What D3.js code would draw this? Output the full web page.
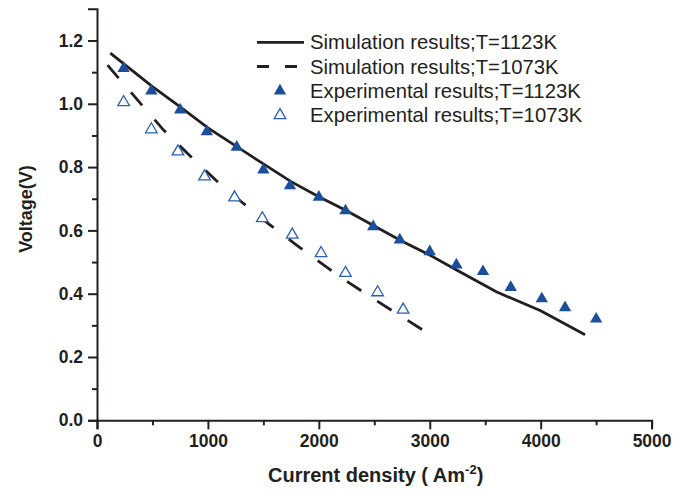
<!DOCTYPE html>
<html>
<head>
<meta charset="utf-8">
<script src="https://cdn.jsdelivr.net/npm/d3@7"></script>
<style>
  html, body { margin: 0; padding: 0; background: #fff; }
  svg { display: block; font-family: Arial, "Liberation Sans", sans-serif; }
</style>
</head>
<body>
<svg id="chart" width="690" height="489"></svg>
<script>
// ---- data ----
const simCurrent1123 = [120, 500, 750, 1000, 1250, 1500, 1750, 2000, 2250, 2500, 2750, 3000, 3250, 3600, 4000, 4400];
const simVoltage1123 = [1.160, 1.054, 0.990, 0.924, 0.867, 0.810, 0.754, 0.706, 0.662, 0.614, 0.566, 0.522, 0.473, 0.406, 0.346, 0.270];

const simCurrent1073 = [95, 390, 600, 840, 1070, 1310, 1550, 1790, 2030, 2270, 2510, 2750, 2970];
const simVoltage1073 = [1.122, 1.002, 0.917, 0.835, 0.759, 0.688, 0.620, 0.556, 0.494, 0.435, 0.380, 0.327, 0.278];

const expCurrent1123 = [240, 490, 750, 990, 1260, 1500, 1740, 2000, 2240, 2490, 2730, 3000, 3240, 3480, 3730, 4010, 4220, 4500];
const expVoltage1123 = [1.112, 1.041, 0.981, 0.912, 0.863, 0.791, 0.741, 0.705, 0.662, 0.612, 0.570, 0.533, 0.491, 0.470, 0.420, 0.384, 0.356, 0.320];

const expCurrent1073 = [240, 490, 730, 970, 1240, 1490, 1760, 2020, 2240, 2530, 2760];
const expVoltage1073 = [1.005, 0.919, 0.849, 0.770, 0.704, 0.638, 0.586, 0.528, 0.465, 0.404, 0.349];

const xMajorTicks = [0, 1000, 2000, 3000, 4000, 5000];
const xMinorTicks = [500, 1500, 2500, 3500, 4500];
const yMajorTicks = [0.0, 0.2, 0.4, 0.6, 0.8, 1.0, 1.2];
const yMinorTicks = [0.1, 0.3, 0.5, 0.7, 0.9, 1.1];

const legendLabels = [
  "Simulation results;T=1123K",
  "Simulation results;T=1073K",
  "Experimental results;T=1123K",
  "Experimental results;T=1073K"
];
const xTitle = "Current density ( Am";
const xTitleSup = "-2";
const yTitle = "Voltage(V)";

// ---- drawing ----
const ink = "#231f20";
const blue = "#1b4f9c";
const blueOpen = "#2b5fb3";

const svg = d3.select("#chart");
const x = d3.scaleLinear().domain([0, 5000]).range([97, 651.6]);
const y = d3.scaleLinear().domain([0, 1.3]).range([420.3, 8.85]);

const zip = (xs, ys) => xs.map((v, i) => ({ x: v, y: ys[i] }));
const line = d3.line().x(d => x(d.x)).y(d => y(d.y));

// axes
const gx = svg.append("g").attr("transform", `translate(0,${y(0)})`);
gx.call(d3.axisBottom(x).tickValues(xMajorTicks).tickFormat(d3.format("d")).tickSizeOuter(0).tickSize(9).tickPadding(5));
const gxm = svg.append("g").attr("transform", `translate(0,${y(0)})`);
gxm.call(d3.axisBottom(x).tickValues(xMinorTicks).tickFormat("").tickSizeOuter(0).tickSize(5));
gxm.select(".domain").remove();

const gy = svg.append("g").attr("transform", `translate(${x(0)},0)`);
gy.call(d3.axisLeft(y).tickValues(yMajorTicks).tickFormat(d3.format(".1f")).tickSizeOuter(0).tickSize(9).tickPadding(5));
const gym = svg.append("g").attr("transform", `translate(${x(0)},0)`);
gym.call(d3.axisLeft(y).tickValues(yMinorTicks).tickFormat("").tickSizeOuter(0).tickSize(5));
gym.select(".domain").remove();

svg.selectAll(".domain, .tick line").attr("stroke", ink).attr("stroke-width", 2);
svg.selectAll(".tick text")
  .attr("fill", ink)
  .style("font-size", "17.5px")
  .style("font-weight", "bold")
  .style("font-family", "Arial, 'Liberation Sans', sans-serif");

// axis titles
svg.append("text")
  .attr("transform", `translate(32,${209}) rotate(-90)`)
  .attr("text-anchor", "middle")
  .attr("fill", ink)
  .style("font-size", "18px")
  .style("font-weight", "bold")
  .text(yTitle);

const xt = svg.append("text")
  .attr("x", 268).attr("y", 482)
  .attr("fill", ink)
  .style("font-size", "20px")
  .style("font-weight", "bold");
xt.append("tspan").text(xTitle);
xt.append("tspan").attr("dy", -8).style("font-size", "13px").text(xTitleSup);
xt.append("tspan").attr("dy", 8).text(")");

// simulation lines
svg.append("path").datum(zip(simCurrent1123, simVoltage1123))
  .attr("d", line).attr("fill", "none").attr("stroke", ink).attr("stroke-width", 2.8);
svg.append("path").datum(zip(simCurrent1073, simVoltage1073))
  .attr("d", line).attr("fill", "none").attr("stroke", ink).attr("stroke-width", 2.8)
  .attr("stroke-dasharray", "17,19");

// experimental markers
const tri = d3.symbol().type(d3.symbolTriangle);
svg.append("g").selectAll("path").data(zip(expCurrent1123, expVoltage1123)).join("path")
  .attr("transform", d => `translate(${x(d.x)},${y(d.y)})`)
  .attr("d", tri.size(66)())
  .attr("fill", blue);
svg.append("g").selectAll("path").data(zip(expCurrent1073, expVoltage1073)).join("path")
  .attr("transform", d => `translate(${x(d.x)},${y(d.y)})`)
  .attr("d", tri.size(58)())
  .attr("fill", "#fff").attr("stroke", blueOpen).attr("stroke-width", 1.3);

// legend
const lg = svg.append("g");
const rowY = [42.3, 66.5, 91, 115.3];
lg.append("line").attr("x1", 257).attr("x2", 304).attr("y1", rowY[0]).attr("y2", rowY[0])
  .attr("stroke", ink).attr("stroke-width", 2.8);
lg.append("line").attr("x1", 257).attr("x2", 304).attr("y1", rowY[1]).attr("y2", rowY[1])
  .attr("stroke", ink).attr("stroke-width", 2.8).attr("stroke-dasharray", "12,16");
lg.append("path").attr("transform", `translate(280,${rowY[2]})`).attr("d", tri.size(66)()).attr("fill", blue);
lg.append("path").attr("transform", `translate(280,${rowY[3]})`).attr("d", tri.size(58)())
  .attr("fill", "#fff").attr("stroke", blueOpen).attr("stroke-width", 1.3);
lg.selectAll("text").data(legendLabels).join("text")
  .attr("x", 310).attr("y", (d, i) => rowY[i] + 7)
  .attr("fill", ink)
  .style("font-size", "20.3px")
  .text(d => d);
</script>
</body>
</html>
